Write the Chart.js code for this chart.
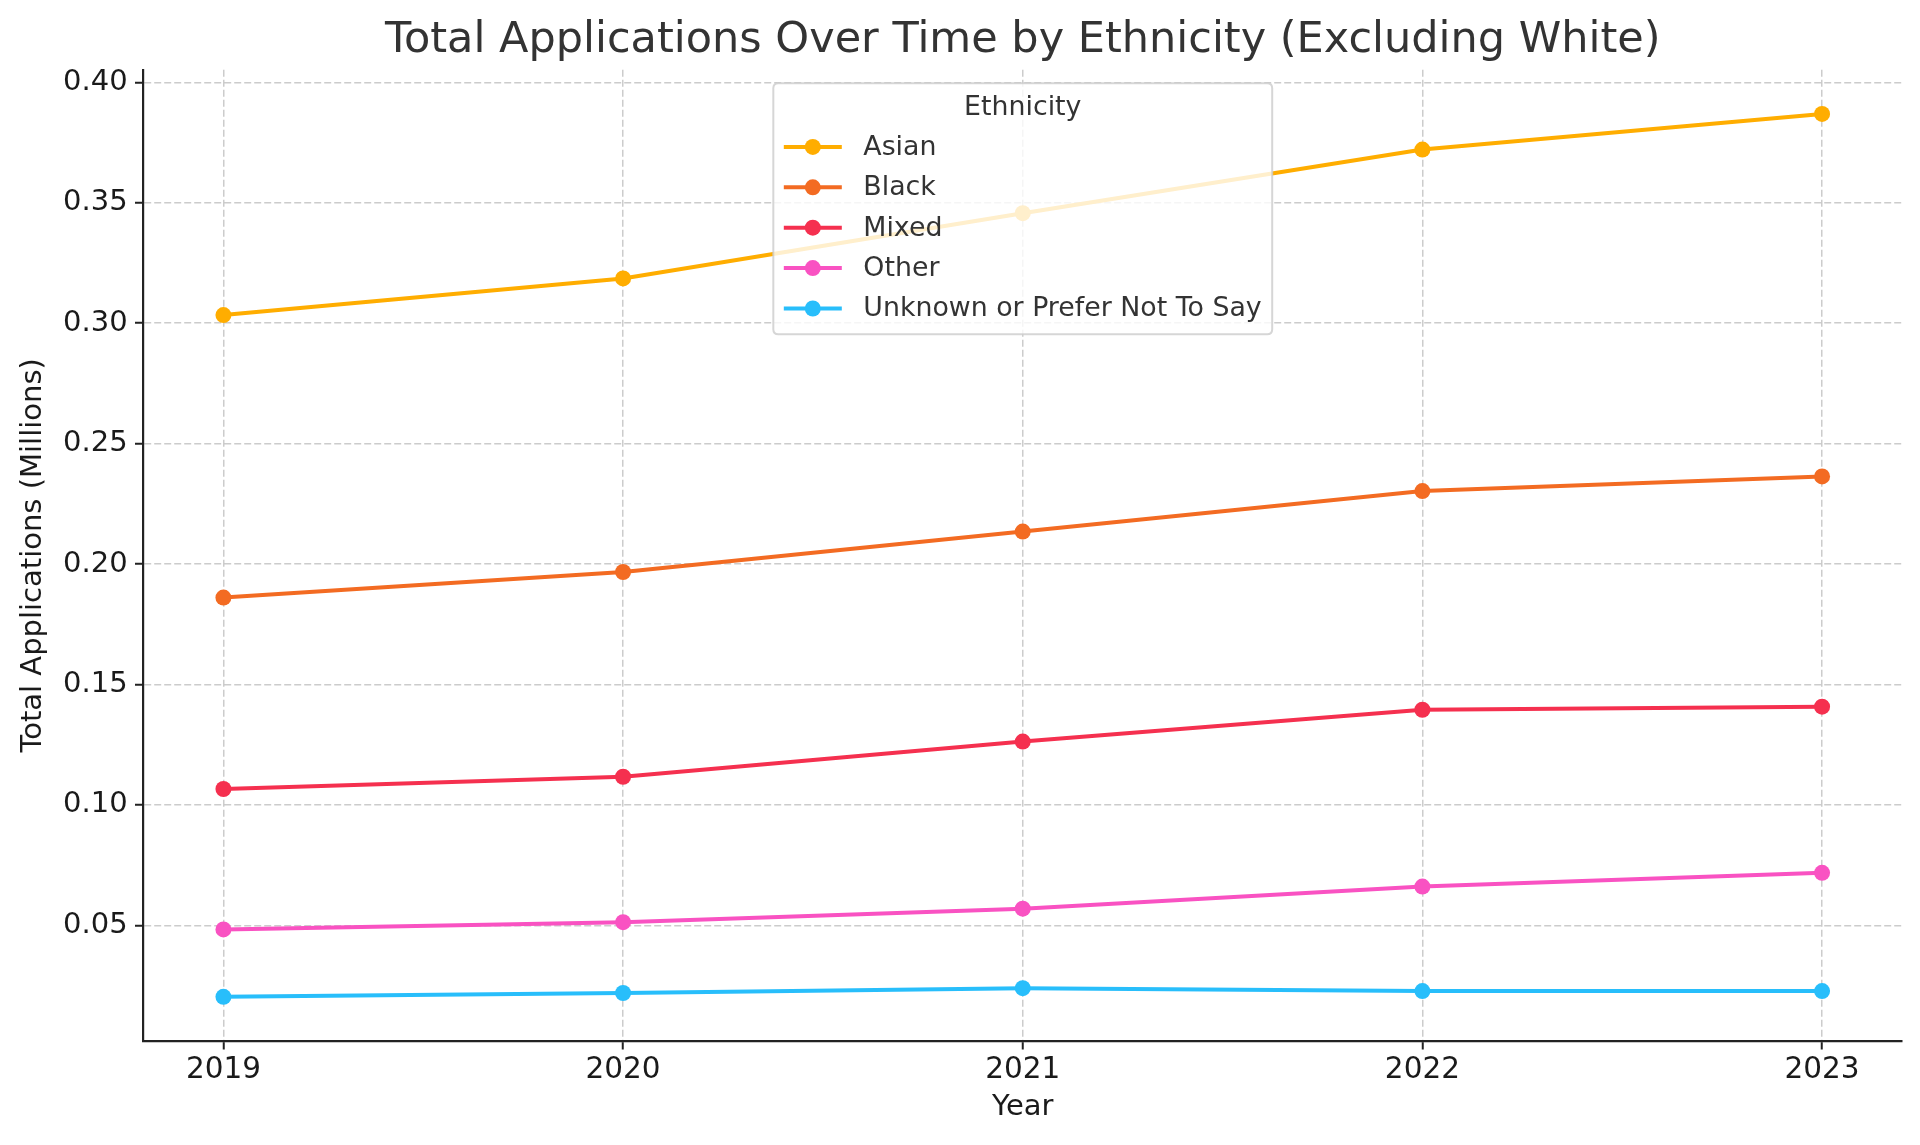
<!DOCTYPE html>
<html><head><meta charset="utf-8">
<script src="https://cdn.jsdelivr.net/npm/chart.js@4.4.1/dist/chart.umd.min.js"></script>
<style>html,body{margin:0;padding:0;background:#fff;}#wrap{width:1920px;height:1145px;}</style>
</head><body><div id="wrap"><canvas id="c" width="1920" height="1145"></canvas></div>
<script>
const years = [2019, 2020, 2021, 2022, 2023];
const seriesNames = ['Asian', 'Black', 'Mixed', 'Other', 'Unknown or Prefer Not To Say'];
const asian   = [0.3034, 0.3186, 0.3457, 0.3721, 0.3869];
const black   = [0.1861, 0.1967, 0.2135, 0.2303, 0.2364];
const mixed   = [0.1066, 0.1117, 0.1263, 0.1395, 0.1408];
const other   = [0.0483, 0.0513, 0.0569, 0.0661, 0.0718];
const unknown = [0.0203, 0.0219, 0.0239, 0.0227, 0.0227];
const yTickValues = [0.05, 0.10, 0.15, 0.20, 0.25, 0.30, 0.35, 0.40];
const seriesColors = ['#FFAD00', '#F36B22', '#F5304F', '#F952C2', '#28BEFB'];

const allSeries = [asian, black, mixed, other, unknown];
const FONT = '"DejaVu Sans", "Liberation Sans", sans-serif';

// matplotlib-like 5% autoscale margins
const xMinD = Math.min(...years), xMaxD = Math.max(...years);
const xr = xMaxD - xMinD;
const allVals = allSeries.flat();
const yMinD = Math.min(...allVals), yMaxD = Math.max(...allVals);
const yr = yMaxD - yMinD;

const datasets = allSeries.map((vals, i) => ({
  label: seriesNames[i],
  data: years.map((yy, j) => ({x: yy, y: vals[j]})),
  borderColor: seriesColors[i],
  backgroundColor: seriesColors[i],
  pointBackgroundColor: seriesColors[i],
  pointBorderWidth: 0,
  pointRadius: 8,
  pointHoverRadius: 8,
  borderWidth: 4,
  tension: 0,
  fill: false
}));

const legendPlugin = {
  id: 'mplLegend',
  afterDatasetsDraw(chart) {
    const ctx = chart.ctx, ca = chart.chartArea;
    const fs = 26.8;
    ctx.save();
    ctx.font = fs + 'px ' + FONT;
    let maxW = 0;
    seriesNames.forEach(n => { maxW = Math.max(maxW, ctx.measureText(n).width); });
    const pad = 10.5, handle = 58, gap = 21.5;
    const w = pad + handle + gap + maxW + pad;
    const h = 251;
    const x = (ca.left + ca.right) / 2 - w / 2;
    const y = ca.top + 13.5;
    const r = 5;
    ctx.beginPath();
    ctx.moveTo(x + r, y);
    ctx.lineTo(x + w - r, y); ctx.quadraticCurveTo(x + w, y, x + w, y + r);
    ctx.lineTo(x + w, y + h - r); ctx.quadraticCurveTo(x + w, y + h, x + w - r, y + h);
    ctx.lineTo(x + r, y + h); ctx.quadraticCurveTo(x, y + h, x, y + h - r);
    ctx.lineTo(x, y + r); ctx.quadraticCurveTo(x, y, x + r, y);
    ctx.closePath();
    ctx.fillStyle = 'rgba(255,255,255,0.8)';
    ctx.fill();
    ctx.strokeStyle = 'rgba(204,204,204,0.8)';
    ctx.lineWidth = 2;
    ctx.stroke();
    ctx.fillStyle = '#333333';
    ctx.textBaseline = 'middle';
    ctx.textAlign = 'center';
    ctx.fillText('Ethnicity', x + w / 2, y + 24.5);
    ctx.textAlign = 'left';
    seriesNames.forEach((n, i) => {
      const cy = y + 63.6 + i * 40.4;
      ctx.strokeStyle = seriesColors[i];
      ctx.lineWidth = 4;
      ctx.beginPath();
      ctx.moveTo(x + pad, cy); ctx.lineTo(x + pad + handle, cy);
      ctx.stroke();
      ctx.fillStyle = seriesColors[i];
      ctx.beginPath();
      ctx.arc(x + pad + handle / 2, cy, 8, 0, Math.PI * 2);
      ctx.fill();
      ctx.fillStyle = '#333333';
      ctx.fillText(n, x + pad + handle + gap, cy + 1);
    });
    ctx.restore();
  }
};

const gridOpts = {
  color: 'rgba(176,176,176,0.65)',
  lineWidth: 1.5,
  drawTicks: true,
  tickLength: 8.5,
  tickColor: '#222222',
  tickWidth: 2,
  tickBorderDash: []
};

new Chart(document.getElementById('c'), {
  type: 'line',
  data: { datasets },
  plugins: [legendPlugin],
  options: {
    responsive: false,
    animation: false,
    devicePixelRatio: 1,
    layout: { padding: { left: 0, right: 18, top: 0, bottom: 0 } },
    plugins: {
      legend: { display: false },
      tooltip: { enabled: false },
      title: {
        display: true,
        text: 'Total Applications Over Time by Ethnicity (Excluding White)',
        color: '#333333',
        fullSize: false,
        font: { family: FONT, size: 43, weight: 'normal', lineHeight: 1.2 },
        padding: { top: 14.7, bottom: 3.5 }
      }
    },
    scales: {
      x: {
        type: 'linear',
        min: xMinD - 0.05 * xr,
        max: xMaxD + 0.05 * xr,
        afterBuildTicks(scale) { scale.ticks = years.map(v => ({value: v})); },
        afterFit(scale) { scale.height = 104; },
        ticks: {
          color: '#1a1a1a',
          font: { family: FONT, size: 29.5 },
          padding: 3.5,
          maxRotation: 0,
          autoSkip: false,
          callback: v => String(v)
        },
        grid: gridOpts,
        border: { display: true, color: '#222222', width: 2.2, dash: [7, 3] },
        title: {
          display: true,
          text: 'Year',
          color: '#1a1a1a',
          font: { family: FONT, size: 29, lineHeight: 1.2 },
          padding: { top: 0, bottom: 20 }
        }
      },
      y: {
        type: 'linear',
        min: yMinD - 0.05 * yr,
        max: yMaxD + 0.05 * yr,
        afterBuildTicks(scale) { scale.ticks = yTickValues.map(v => ({value: v})); },
        afterFit(scale) { scale.width = 143.5; },
        ticks: {
          color: '#1a1a1a',
          font: { family: FONT, size: 29 },
          padding: 7.4,
          autoSkip: false,
          callback: v => Number(v).toFixed(2)
        },
        grid: gridOpts,
        border: { display: true, color: '#222222', width: 2.2, dash: [7, 3] },
        title: {
          display: true,
          text: 'Total Applications (Millions)',
          color: '#1a1a1a',
          font: { family: FONT, size: 29, lineHeight: 1.2 },
          padding: { top: 15.6, bottom: 0 }
        }
      }
    }
  }
});
</script>
</body></html>
